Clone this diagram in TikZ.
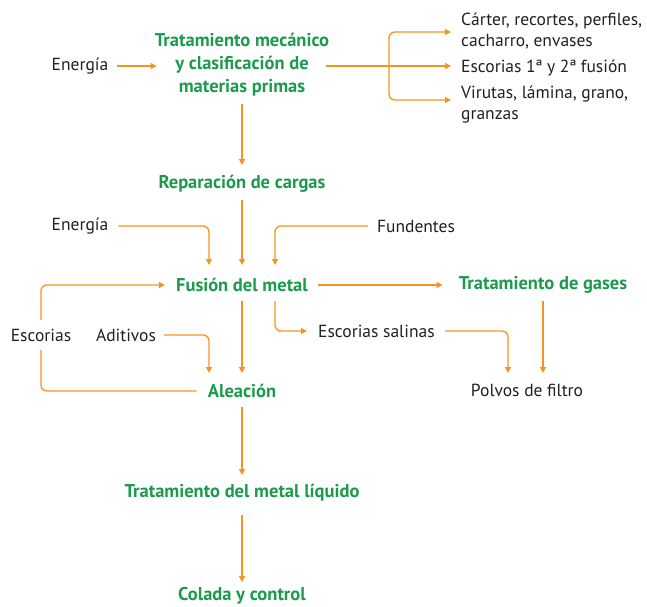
\documentclass[tikz,border=0pt]{standalone}
\usepackage{fontspec}
\setmainfont{PT Sans}
\usetikzlibrary{arrows.meta,calc}
\definecolor{org}{HTML}{F7941D}
\definecolor{grn}{HTML}{1B9B4B}
\definecolor{txt}{HTML}{231F20}
\begin{document}
\begin{tikzpicture}[x=1pt,y=-1pt,
 proc/.style={font=\fontsize{18.5}{23}\selectfont\bfseries, text=grn, inner sep=0pt, align=center},
 lbl/.style={font=\fontsize{17.5}{21}\selectfont, text=txt, inner sep=0pt},
 flow/.style={draw=org, line width=1.3pt, -{Triangle[length=6pt,width=6pt]}},
 plain/.style={draw=org, line width=1.3pt},
 rc/.style={rounded corners=6pt}]
\useasboundingbox (0,0) rectangle (647,606);
% nodes
\node[lbl] (e1) at (80,66) {Energía};
\node[proc] (t1) at (242,65) {Tratamiento mecánico\\y clasificación de\\materias primas};
\node[lbl, anchor=west, align=left] (r1) at (461,31) {Cárter, recortes, perfiles,\\cacharro, envases};
\node[lbl, anchor=west] (r2) at (461,68) {Escorias 1ª y 2ª fusión};
\node[lbl, anchor=west, align=left] (r3) at (461,105) {Virutas, lámina, grano,\\granzas};
\node[proc] (rep) at (242,184) {Reparación de cargas};
\node[lbl] (e2) at (80,226) {Energía};
\node[lbl] (fun) at (416,226) {Fundentes};
\node[proc] (fus) at (242,285) {Fusión del metal};
\node[proc] (gas) at (543,285) {Tratamiento de gases};
\node[lbl, anchor=west] (esal) at (318,331) {Escorias salinas};
\node[lbl] (pol) at (527,390) {Polvos de filtro};
\node[lbl] (esc) at (41,335) {Escorias};
\node[lbl] (adi) at (126,335) {Aditivos};
\node[proc] (ale) at (242,391) {Aleación};
\node[proc] (liq) at (242,493) {Tratamiento del metal líquido};
\node[proc] (col) at (242,596) {Colada y control};
\coordinate (br) at (389,66);
% connectors
\draw[flow] ([xshift=9pt]e1.east) -- ([xshift=2pt]t1.west |- e1.east);
\draw[flow] ($(t1.center)+(84,1)$) -- ([xshift=-10pt]r2.west |- br);
\draw[flow, rc] (br) |- ([xshift=-10pt,yshift=-1pt]r1.west);
\draw[flow, rc] (br) |- ([xshift=-10pt,yshift=5pt]r3.west);
\draw[flow] ($(t1.center)+(0,39)$) -- ($(rep.center)+(0,-19)$);
\draw[flow] ($(rep.center)+(0,16)$) -- ($(fus.center)+(0,-20)$);
\draw[flow, rc] ([xshift=10pt]e2.east) -| ($(fus.center)+(-33,-20)$);
\draw[flow, rc] ([xshift=-9pt]fun.west) -| ($(fus.center)+(33,-20)$);
\draw[flow] ([xshift=10pt]fus.east) -- ([xshift=-16pt]gas.west);
\draw[flow] ($(gas.center)+(0,16)$) -- ($(pol.center)+(16,-17)$);
\draw[flow, rc] ($(fus.center)+(33,16)$) |- ([xshift=-11pt]esal.west);
\draw[flow, rc] ([xshift=10pt]esal.east) -| ($(pol.center)+(-19,-17)$);
\draw[flow, rc] ($(esc.center)+(0,-15)$) |- ([xshift=-11pt]fus.west);
\draw[plain, rc] ($(esc.center)+(0,15)$) |- ([xshift=-11pt]ale.west);
\draw[flow, rc] ([xshift=8pt]adi.east) -| ($(ale.center)+(-33,-18)$);
\draw[flow] ($(fus.center)+(0,16)$) -- ($(ale.center)+(0,-18)$);
\draw[flow] ($(ale.center)+(0,16)$) -- ($(liq.center)+(0,-18)$);
\draw[flow] ($(liq.center)+(0,22)$) -- ($(col.center)+(0,-14)$);
\end{tikzpicture}
\end{document}
